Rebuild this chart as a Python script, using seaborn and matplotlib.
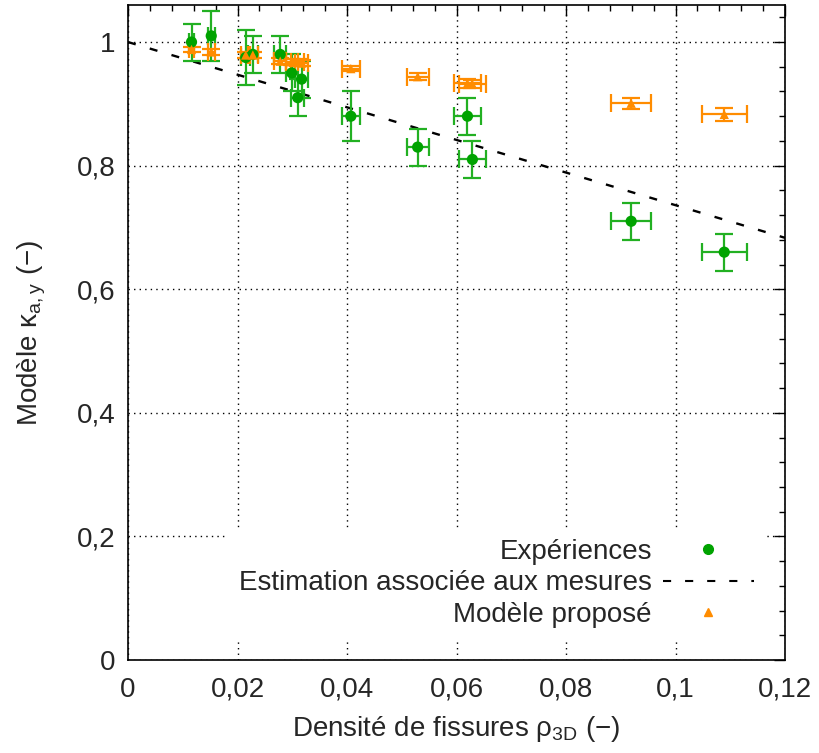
import numpy as np
import pandas as pd
import matplotlib
matplotlib.use("Agg")
import matplotlib.pyplot as plt
from matplotlib.ticker import MultipleLocator, FuncFormatter
from matplotlib.lines import Line2D
import seaborn as sns

# Expériences (points verts)
exp_x = [0.0116, 0.0152, 0.0215, 0.0228, 0.0278, 0.0299, 0.0310, 0.0317,
         0.0407, 0.0529, 0.0620, 0.0629, 0.0919, 0.1089]
exp_y = [1.00, 1.01, 0.975, 0.98, 0.98, 0.95, 0.91, 0.94,
         0.88, 0.83, 0.88, 0.81, 0.71, 0.66]
exp_yerr = [0.03, 0.04, 0.045, 0.03, 0.03, 0.03, 0.03, 0.03,
            0.04, 0.03, 0.03, 0.03, 0.03, 0.03]
exp_xerr = [0.0004, 0.0006, 0.0008, 0.0009, 0.0011, 0.0011, 0.0012, 0.0012,
            0.0016, 0.0020, 0.0024, 0.0024, 0.0036, 0.0041]

# Modèle proposé (triangles orange)
mod_x = exp_x
mod_y = [0.988, 0.984, 0.979, 0.979, 0.969, 0.968, 0.967, 0.966,
         0.957, 0.944, 0.933, 0.932, 0.901, 0.883]
mod_yerr = [0.004, 0.005, 0.005, 0.005, 0.005, 0.005, 0.005, 0.005,
            0.004, 0.006, 0.007, 0.007, 0.009, 0.010]
mod_xerr = exp_xerr

# Estimation associée aux mesures : kappa = a + b * rho
fit_a = 1.0
fit_b = -2.64

df_exp = pd.DataFrame({"x": exp_x, "y": exp_y})
df_mod = pd.DataFrame({"x": mod_x, "y": mod_y})
xfit = np.array([0.0, 0.12])
df_fit = pd.DataFrame({"x": xfit, "y": fit_a + fit_b * xfit})

sns.set_style("white")
plt.rcParams["font.family"] = ["Liberation Sans", "DejaVu Sans"]
plt.rcParams["mathtext.default"] = "regular"

green = "#00a300"
green_bar = "#22b022"
orange = "#ff8c00"
fs = 20

fig = plt.figure(figsize=(8.19, 7.53), dpi=100)
ax = fig.add_axes([0.1563, 0.1235, 0.8022, 0.8699])

# droite d'estimation
sns.lineplot(data=df_fit, x="x", y="y", ax=ax, color="black", lw=1.7,
             dashes=False, zorder=2)
ax.lines[-1].set_dashes([3.4, 6.2])

# barres d'erreur
ax.errorbar(exp_x, exp_y, yerr=exp_yerr, xerr=exp_xerr, fmt="none",
            ecolor=green_bar, elinewidth=1.6, capsize=6.5, capthick=1.6, zorder=3)
ax.errorbar(mod_x, mod_y, yerr=mod_yerr, xerr=mod_xerr, fmt="none",
            ecolor=orange, elinewidth=1.6, capsize=6.5, capthick=1.6, zorder=3)

sns.scatterplot(data=df_exp, x="x", y="y", ax=ax, color=green, marker="o",
                s=65, edgecolor="none", zorder=4)
sns.scatterplot(data=df_mod, x="x", y="y", ax=ax, color=orange, marker="^",
                s=45, edgecolor="none", zorder=4)

ax.set_xlim(0, 0.12)
ax.set_ylim(0, 1.06)
ax.xaxis.set_major_locator(MultipleLocator(0.02))
ax.xaxis.set_minor_locator(MultipleLocator(0.004))
ax.yaxis.set_major_locator(MultipleLocator(0.2))
ax.yaxis.set_minor_locator(MultipleLocator(0.04))
fmt = FuncFormatter(lambda v, p: ("%g" % round(v, 4)).replace(".", ","))
ax.xaxis.set_major_formatter(fmt)
ax.yaxis.set_major_formatter(fmt)

ax.tick_params(which="both", direction="in", top=True, right=True,
               labelsize=fs, color="black")
ax.tick_params(which="major", length=8, width=1)
ax.tick_params(which="minor", length=4, width=1)
ax.tick_params(axis="x", which="major", pad=12)
ax.tick_params(axis="y", which="major", pad=9)
for s in ax.spines.values():
    s.set_color("black")
    s.set_linewidth(1.2)

ax.grid(True, which="major", color="black", linestyle=(0, (1, 3)), lw=1)

ax.set_xlabel("Densité de fissures ρ$_{3D}$ (−)", fontsize=fs, labelpad=8)
ax.set_ylabel("Modèle κ$_{a,y}$ (−)", fontsize=fs, labelpad=21)

handles = [
    Line2D([], [], color=green, marker="o", ls="none", markersize=7),
    Line2D([], [], color="black", ls=(0, (3.9, 6.7)), lw=1.5),
    Line2D([], [], color=orange, marker="^", ls="none", markersize=6),
]
labels = ["Expériences", "Estimation associée aux mesures", "Modèle proposé"]
leg = ax.legend(handles, labels, loc="lower right",
                bbox_to_anchor=(0.97, 0.032), markerfirst=False,
                fontsize=fs, frameon=True, framealpha=1, facecolor="white",
                edgecolor="none", handlelength=3.3, labelspacing=0.2,
                borderaxespad=0, borderpad=0.4, handletextpad=0.38,
                fancybox=False)
leg.set_zorder(5)

fig.savefig("out.png", dpi=100)
